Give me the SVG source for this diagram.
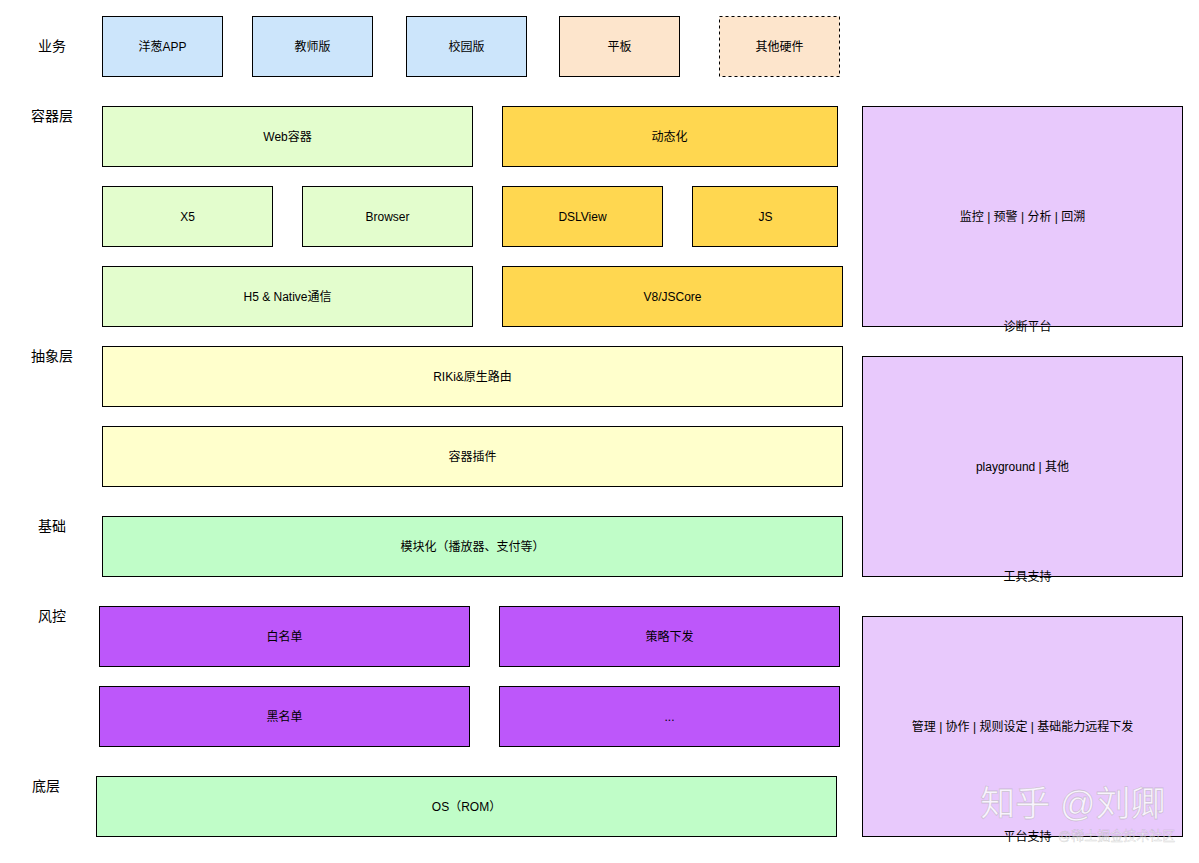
<svg xmlns="http://www.w3.org/2000/svg" width="1199" height="863" viewBox="0 0 1199 863">
<style>
rect{stroke:#000;stroke-width:1}
text{font-family:"Liberation Sans","Noto Sans CJK SC",sans-serif;font-size:12px;fill:#000;text-anchor:middle;dominant-baseline:central}
.side{font-size:14px}
.blue{fill:#cce5fb}.orange{fill:#fde5cc}.lg{fill:#e3fdcd}.gold{fill:#ffd750}.lp{fill:#e8c9fc}.ly{fill:#ffffcc}.gr{fill:#c0fdc8}.pp{fill:#bd57fa}
.wm{font-size:35px;fill:#ffffff;fill-opacity:0.8;stroke:#999;stroke-opacity:0.4;stroke-width:0.8}
.wm2{font-size:13px;fill:#ffffff;fill-opacity:0.5;stroke:#888;stroke-opacity:0.35;stroke-width:0.5;text-anchor:start}
</style>
<rect x="0" y="0" width="1199" height="863" style="fill:#fff;stroke:none"/>
<g id="side-labels">
<text class="side" x="52" y="46">业务</text>
<text class="side" x="52" y="116">容器层</text>
<text class="side" x="52" y="356">抽象层</text>
<text class="side" x="52" y="526">基础</text>
<text class="side" x="52" y="616">风控</text>
<text class="side" x="46" y="786">底层</text>
</g>
<g transform="translate(0.5,0.5)">
<g id="n-yangcong"><rect class="blue" x="102" y="16" width="120" height="60"/><text x="162" y="46">洋葱APP</text></g>
<g id="n-teacher"><rect class="blue" x="252" y="16" width="120" height="60"/><text x="312" y="46">教师版</text></g>
<g id="n-campus"><rect class="blue" x="406" y="16" width="120" height="60"/><text x="466" y="46">校园版</text></g>
<g id="n-pad"><rect class="orange" x="559" y="16" width="120" height="60"/><text x="619" y="46">平板</text></g>
<g id="n-other-hw"><rect class="orange" x="719" y="16" width="120" height="60" stroke-dasharray="3 3"/><text x="779" y="46">其他硬件</text></g>
<g id="n-web"><rect class="lg" x="102" y="106" width="370" height="60"/><text x="287" y="136">Web容器</text></g>
<g id="n-dyn"><rect class="gold" x="502" y="106" width="335" height="60"/><text x="669" y="136">动态化</text></g>
<g id="n-x5"><rect class="lg" x="102" y="186" width="170" height="60"/><text x="187" y="216">X5</text></g>
<g id="n-browser"><rect class="lg" x="302" y="186" width="170" height="60"/><text x="387" y="216">Browser</text></g>
<g id="n-dslview"><rect class="gold" x="502" y="186" width="160" height="60"/><text x="582" y="216">DSLView</text></g>
<g id="n-js"><rect class="gold" x="692" y="186" width="145" height="60"/><text x="765" y="216">JS</text></g>
<g id="n-h5"><rect class="lg" x="102" y="266" width="370" height="60"/><text x="287" y="296">H5 &amp; Native通信</text></g>
<g id="n-v8"><rect class="gold" x="502" y="266" width="340" height="60"/><text x="672" y="296">V8/JSCore</text></g>
<g id="n-diag"><rect class="lp" x="862" y="106" width="320" height="220"/><text x="1022" y="216">监控 | 预警 | 分析 | 回溯</text><text x="1027" y="326">诊断平台</text></g>
<g id="n-router"><rect class="ly" x="102" y="346" width="740" height="60"/><text x="472" y="376">RIKi&amp;原生路由</text></g>
<g id="n-plugin"><rect class="ly" x="102" y="426" width="740" height="60"/><text x="472" y="456">容器插件</text></g>
<g id="n-tools"><rect class="lp" x="862" y="356" width="320" height="220"/><text x="1022" y="466">playground | 其他</text><text x="1027" y="576">工具支持</text></g>
<g id="n-module"><rect class="gr" x="102" y="516" width="740" height="60"/><text x="472" y="546">模块化（播放器、支付等）</text></g>
<g id="n-white"><rect class="pp" x="99" y="606" width="370" height="60"/><text x="284" y="636">白名单</text></g>
<g id="n-policy"><rect class="pp" x="499" y="606" width="340" height="60"/><text x="669" y="636">策略下发</text></g>
<g id="n-black"><rect class="pp" x="99" y="686" width="370" height="60"/><text x="284" y="716">黑名单</text></g>
<g id="n-more"><rect class="pp" x="499" y="686" width="340" height="60"/><text x="669" y="716">...</text></g>
<g id="n-platform"><rect class="lp" x="862" y="616" width="320" height="220"/><text x="1022" y="726">管理 | 协作 | 规则设定 | 基础能力远程下发</text><text x="1027" y="836">平台支持</text></g>
<g id="n-os"><rect class="gr" x="96" y="776" width="740" height="60"/><text x="466" y="806">OS（ROM）</text></g>
</g>
<g id="connectors"></g>
<g id="watermark">
<text class="wm" x="1073" y="803">知乎 @刘卿</text>
<text class="wm2" x="1058" y="835">@稀土掘金技术社区</text>
</g>
</svg>
